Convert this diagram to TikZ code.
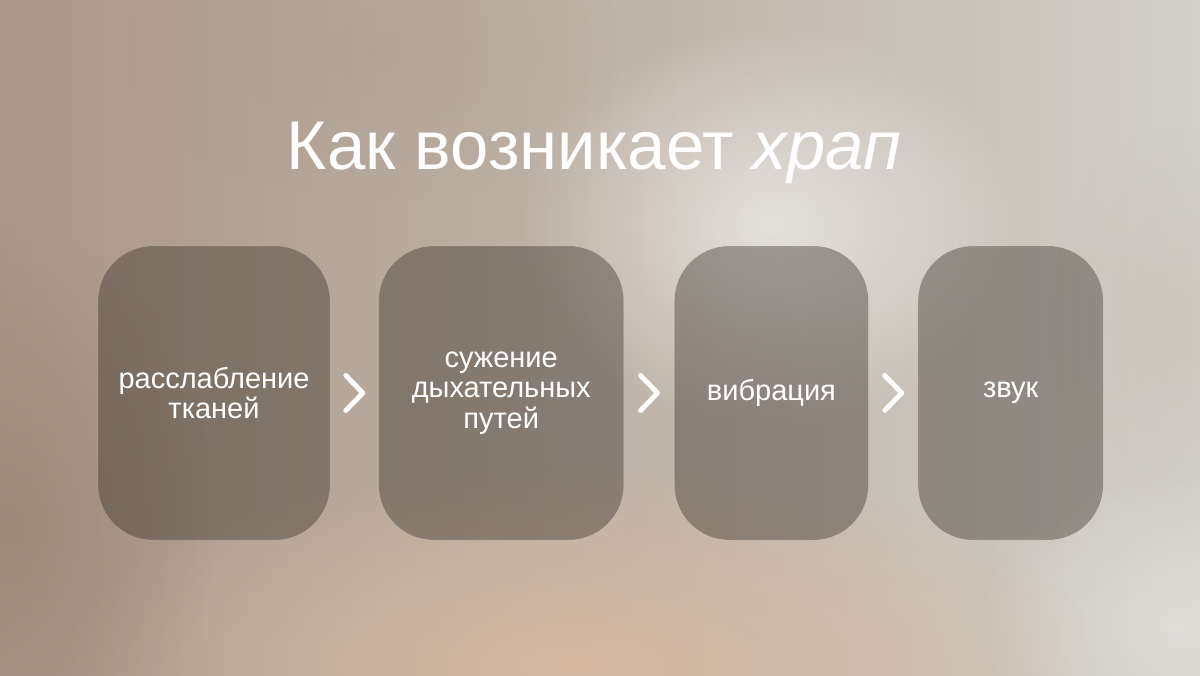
\documentclass[tikz,border=0pt]{standalone}
\usepackage{fontspec}
\setmainfont{Liberation Sans}
\usetikzlibrary{positioning,calc,fadings}

\definecolor{bgleft}{HTML}{AA9787}
\definecolor{bgmid}{HTML}{BDB4A8}
\definecolor{bgright}{HTML}{D2CFC9}
\definecolor{peach}{HTML}{D6B8A0}
\definecolor{umber}{HTML}{978372}
\definecolor{cardfill}{HTML}{2E2620}

\tikzfading[name=softblob, inner color=transparent!0, outer color=transparent!100]

\tikzset{
  card/.style={rounded corners=1.1cm, fill=cardfill, fill opacity=0.38,
    draw=white, draw opacity=0.12, text opacity=1, text=white,
    font=\fontsize{16.5}{17.5}\selectfont, align=center,
    minimum height=5.88cm, inner sep=0pt},
  chevron/.style={draw=white, line width=2.8pt, line cap=round, line join=round},
  blob/.style={path fading=softblob}
}

\begin{document}
\begin{tikzpicture}
% background
\useasboundingbox (0,0) rectangle (24,13.5);
\shade [left color=bgleft, middle color=bgmid, right color=bgright] (0,0) rectangle (24,13.5);
\fill [blob, white, fill opacity=0.55] (15.4,9) ellipse (5 and 4);
\fill [blob, peach, fill opacity=1] (11.5,0.2) ellipse (10.5 and 4);
\fill [blob, umber, fill opacity=0.7] (0.3,3) ellipse (4 and 6);
\fill [blob, white, fill opacity=0.3] (23.5,1) ellipse (4 and 3);
\fill [blob, umber!80, fill opacity=0.35] (7.5,12.5) ellipse (5 and 3);
\fill [blob, umber!60, fill opacity=0.3] (23.5,7) ellipse (2.5 and 4);

% title
\node (title) [text=white, font=\fontsize{39.2}{44}\selectfont, anchor=base] at (11.88,10.1)
  {Как возникает \textit{храп}};

% steps
\node (relax) [card, minimum width=4.64cm] at (4.28,5.64) {расслабление\\тканей};
\node (narrow) [card, minimum width=4.9cm, right=0.96cm of relax] {сужение\\дыхательных\\путей};
\node (vibr) [card, minimum width=3.88cm, right=1.0cm of narrow] {вибрация};
\node (sound) [card, minimum width=3.7cm, right=0.98cm of vibr] {звук};

% chevrons
\foreach \a/\b in {relax/narrow, narrow/vibr, vibr/sound}
  \draw [chevron] ($(\a.east)!0.5!(\b.west)+(-0.17,0.35)$) -- ++(0.34,-0.35) -- ++(-0.34,-0.35);
\end{tikzpicture}
\end{document}
